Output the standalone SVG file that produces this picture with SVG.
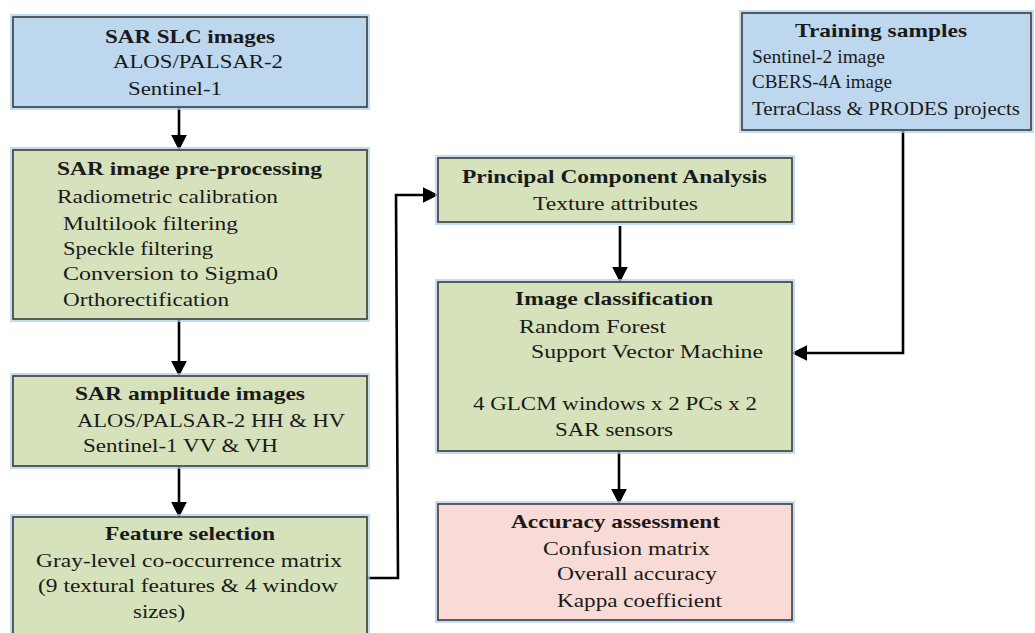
<svg xmlns="http://www.w3.org/2000/svg" width="1035" height="633" viewBox="0 0 1035 633">
<defs>
<style>
.box{stroke:#3b3b3b;stroke-width:1.6}
.glow{fill:none;stroke:#a9cdef;stroke-width:6;stroke-opacity:0.7}
.blue{fill:#bdd7ee}
.green{fill:#d6e2bb}
.pink{fill:#f8dad6}
text{font-family:"Liberation Serif","DejaVu Serif",serif;font-size:19px;fill:#1a1a1a}
.t{font-weight:bold}
.c{fill:none;stroke:#000;stroke-width:2.6}
</style>
<marker id="ah" markerWidth="6" markerHeight="6" refX="5" refY="3" orient="auto" markerUnits="strokeWidth">
<path d="M0,0 L6,3 L0,6 Z" fill="#000"/>
</marker>
</defs>
<rect width="1035" height="633" fill="#fff"/>

<g id="connectors">
<line class="c" x1="179" y1="108" x2="179" y2="148" marker-end="url(#ah)"/>
<line class="c" x1="179" y1="319" x2="179" y2="374" marker-end="url(#ah)"/>
<line class="c" x1="179" y1="467" x2="179" y2="515" marker-end="url(#ah)"/>
<polyline class="c" points="367,578 398,578 396,195 436,195" marker-end="url(#ah)"/>
<line class="c" x1="620" y1="226" x2="620" y2="280" marker-end="url(#ah)"/>
<line class="c" x1="619" y1="452" x2="619" y2="502" marker-end="url(#ah)"/>
<polyline class="c" points="903,131 903,353 794,353" marker-end="url(#ah)"/>
</g>

<g id="sar-slc">
<rect class="glow" x="13" y="17" width="354" height="90"/>
<rect class="box blue" x="13" y="17" width="354" height="90"/>
<text class="t" x="105" y="43" textLength="170" lengthAdjust="spacingAndGlyphs">SAR SLC images</text>
<text x="113" y="68" textLength="170" lengthAdjust="spacingAndGlyphs">ALOS/PALSAR-2</text>
<text x="128" y="95" textLength="94" lengthAdjust="spacingAndGlyphs">Sentinel-1</text>
</g>

<g id="preprocessing">
<rect class="glow" x="13" y="150" width="354" height="169"/>
<rect class="box green" x="13" y="150" width="354" height="169"/>
<text class="t" x="57" y="175" textLength="265" lengthAdjust="spacingAndGlyphs">SAR image pre-processing</text>
<text x="57" y="203" textLength="221" lengthAdjust="spacingAndGlyphs">Radiometric calibration</text>
<text x="63" y="230" textLength="175" lengthAdjust="spacingAndGlyphs">Multilook filtering</text>
<text x="63" y="255" textLength="150" lengthAdjust="spacingAndGlyphs">Speckle filtering</text>
<text x="63" y="280" textLength="215" lengthAdjust="spacingAndGlyphs">Conversion to Sigma0</text>
<text x="63" y="306" textLength="166" lengthAdjust="spacingAndGlyphs">Orthorectification</text>
</g>

<g id="amplitude">
<rect class="glow" x="13" y="376" width="354" height="90"/>
<rect class="box green" x="13" y="376" width="354" height="90"/>
<text class="t" x="75" y="400" textLength="230" lengthAdjust="spacingAndGlyphs">SAR amplitude images</text>
<text x="77" y="427" textLength="268" lengthAdjust="spacingAndGlyphs">ALOS/PALSAR-2 HH &amp; HV</text>
<text x="83" y="452" textLength="195" lengthAdjust="spacingAndGlyphs">Sentinel-1 VV &amp; VH</text>
</g>

<g id="feature-selection">
<rect class="glow" x="13" y="517" width="354" height="120"/>
<rect class="box green" x="13" y="517" width="354" height="120"/>
<text class="t" x="105" y="540" textLength="170" lengthAdjust="spacingAndGlyphs">Feature selection</text>
<text x="36" y="567" textLength="306" lengthAdjust="spacingAndGlyphs">Gray-level co-occurrence  matrix</text>
<text x="38" y="592" textLength="300" lengthAdjust="spacingAndGlyphs">(9 textural  features  &amp; 4 window</text>
<text x="133" y="618" textLength="52" lengthAdjust="spacingAndGlyphs">sizes)</text>
</g>

<g id="pca">
<rect class="glow" x="438" y="158" width="354" height="64"/>
<rect class="box green" x="438" y="158" width="354" height="64"/>
<text class="t" x="462" y="183" textLength="305" lengthAdjust="spacingAndGlyphs">Principal Component Analysis</text>
<text x="533" y="210" textLength="165" lengthAdjust="spacingAndGlyphs">Texture attributes</text>
</g>

<g id="classification">
<rect class="glow" x="438" y="282" width="354" height="169"/>
<rect class="box green" x="438" y="282" width="354" height="169"/>
<text class="t" x="515" y="305" textLength="198" lengthAdjust="spacingAndGlyphs">Image classification</text>
<text x="519" y="333" textLength="147" lengthAdjust="spacingAndGlyphs">Random Forest</text>
<text x="531" y="358" textLength="232" lengthAdjust="spacingAndGlyphs">Support  Vector Machine</text>
<text x="473" y="410" textLength="284" lengthAdjust="spacingAndGlyphs">4 GLCM windows  x 2 PCs x 2</text>
<text x="555" y="436" textLength="118" lengthAdjust="spacingAndGlyphs">SAR sensors</text>
</g>

<g id="accuracy">
<rect class="glow" x="438" y="504" width="354" height="116"/>
<rect class="box pink" x="438" y="504" width="354" height="116"/>
<text class="t" x="511" y="528" textLength="209" lengthAdjust="spacingAndGlyphs">Accuracy assessment</text>
<text x="543" y="555" textLength="167" lengthAdjust="spacingAndGlyphs">Confusion  matrix</text>
<text x="557" y="580" textLength="160" lengthAdjust="spacingAndGlyphs">Overall  accuracy</text>
<text x="557" y="607" textLength="165" lengthAdjust="spacingAndGlyphs">Kappa  coefficient</text>
</g>

<g id="training">
<rect class="glow" x="742" y="13" width="289" height="117"/>
<rect class="box blue" x="742" y="13" width="289" height="117"/>
<text class="t" x="795" y="37" textLength="172" lengthAdjust="spacingAndGlyphs">Training samples</text>
<text x="752" y="63" textLength="133" lengthAdjust="spacingAndGlyphs">Sentinel-2 image</text>
<text x="752" y="88" textLength="140" lengthAdjust="spacingAndGlyphs">CBERS-4A image</text>
<text x="752" y="115" textLength="268" lengthAdjust="spacingAndGlyphs">TerraClass  &amp; PRODES projects</text>
</g>
</svg>
